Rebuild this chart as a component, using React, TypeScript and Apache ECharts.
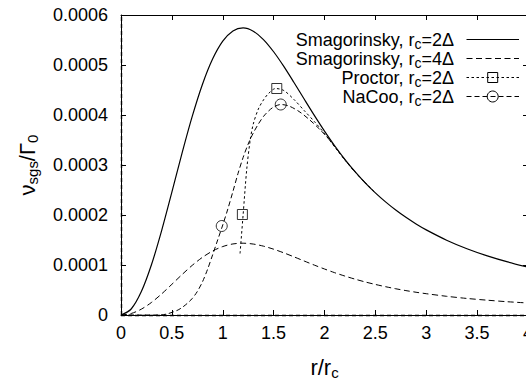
import React, { useEffect, useRef } from 'react';
import * as echarts from 'echarts';

// ---- data ----
const rGrid = [0, 0.1, 0.2, 0.3, 0.4, 0.5, 0.6, 0.7, 0.8, 0.9, 1.0, 1.1, 1.2, 1.3, 1.4, 1.5, 1.6, 1.7, 1.8, 1.9, 2.0, 2.1, 2.2, 2.3, 2.4, 2.5, 2.6, 2.7, 2.8, 2.9, 3.0, 3.2, 3.4, 3.6, 3.8, 4.0];
const smag2 = [0, 0.000012, 0.0000468, 0.0001009, 0.0001693, 0.0002457, 0.0003237, 0.0003971, 0.000461, 0.0005118, 0.0005477, 0.0005682, 0.0005742, 0.0005676, 0.0005509, 0.0005265, 0.0004972, 0.000465, 0.0004319, 0.0003992, 0.0003678, 0.0003385, 0.0003114, 0.0002867, 0.0002644, 0.0002443, 0.0002262, 0.0002099, 0.0001953, 0.0001821, 0.0001702, 0.0001496, 0.0001325, 0.0001182, 0.0001061, 0.0000958];
const smag4 = [0, 0.000003, 0.0000117, 0.0000252, 0.0000423, 0.0000614, 0.0000809, 0.0000993, 0.0001153, 0.000128, 0.0001369, 0.0001421, 0.0001436, 0.0001419, 0.0001377, 0.0001316, 0.0001243, 0.0001163, 0.000108, 0.0000998, 0.000092, 0.0000846, 0.0000779, 0.0000717, 0.0000661, 0.0000611, 0.0000566, 0.0000525, 0.0000488, 0.0000455, 0.0000426, 0.0000374, 0.0000331, 0.0000296, 0.0000265, 0.000024];

const proctorR = [1.17, 1.2, 1.236, 1.27, 1.3, 1.35, 1.4, 1.45, 1.52, 1.6, 1.7, 1.8, 1.9, 2.0, 2.1, 2.2, 2.3, 2.4, 2.5];
const proctorV = [0.000123, 0.0002, 0.000292, 0.00035, 0.000382, 0.000412, 0.00043, 0.000443, 0.000453, 0.000449, 0.000431, 0.000409, 0.000387, 0.000363, 0.000336, 0.00031, 0.000286, 0.0002644, 0.0002443];
const proctorMarkR = [1.193, 1.531];
const proctorMarkV = [0.000201, 0.000453];

const nacooR = [0, 0.2, 0.37, 0.45, 0.55, 0.6, 0.65, 0.7, 0.75, 0.8, 0.85, 0.9, 0.95, 1.0, 1.05, 1.1, 1.15, 1.2, 1.25, 1.3, 1.35, 1.4, 1.45, 1.5, 1.57, 1.65, 1.75, 1.85, 1.95, 2.05, 2.15, 2.25, 2.35, 2.45];
const nacooV = [0, 0, 0, 0.000002, 0.000009, 0.000015, 0.000023, 0.000033, 0.000047, 0.000066, 0.000091, 0.00012, 0.00015, 0.00018, 0.000212, 0.000247, 0.000283, 0.000315, 0.000342, 0.000364, 0.000382, 0.000397, 0.000408, 0.000416, 0.000421, 0.000418, 0.000407, 0.000391, 0.000372, 0.00035, 0.000324, 0.000298, 0.0002755, 0.000254];
const nacooMarkR = [0.99, 1.57];
const nacooMarkV = [0.000178, 0.000421];

const xTickLabels = ['0', '0.5', '1', '1.5', '2', '2.5', '3', '3.5', '4'];
const yTickLabels = ['0', '0.0001', '0.0002', '0.0003', '0.0004', '0.0005', '0.0006'];

const legendNames = ['Smagorinsky', 'Smagorinsky', 'Proctor', 'NaCoo'];
const legendRc = ['2Δ', '4Δ', '2Δ', '2Δ'];

const FONT = "'Liberation Sans', Arial, Helvetica, sans-serif";

const pairs = (xs: number[], ys: number[]) => xs.map((x, i) => [x, ys[i]]);

function buildOption() {
  const tick = { show: true, inside: true, length: 5, lineStyle: { color: '#000', width: 1 } };
  const line = { show: true, onZero: false, lineStyle: { color: '#000', width: 1 } };

  const legendRowY = [39.5, 58.5, 77.5, 96.5];
  const textRight = 454;
  const lx1 = 466.5;
  const lx2 = 519;
  const lxc = 492.7;
  const dashes: (number[] | null)[] = [null, [6, 3.5], [2.5, 2.5], [5, 3]];

  const graphic: any[] = [];
  legendNames.forEach((nm, i) => {
    const y = legendRowY[i];
    graphic.push({
      type: 'text',
      x: textRight,
      y,
      silent: true,
      style: {
        text: `{m|${nm}, r}{s|c}{m|=${legendRc[i]}}`,
        align: 'right',
        verticalAlign: 'middle',
        fill: '#000',
        rich: {
          m: { fontSize: 18, fontFamily: FONT, fill: '#000' },
          s: { fontSize: 14, fontFamily: FONT, fill: '#000', padding: [9, 0, 0, 0] },
        },
      },
    });
    graphic.push({
      type: 'line',
      silent: true,
      shape: { x1: lx1, y1: y, x2: lx2, y2: y },
      style: { stroke: '#000', lineWidth: i === 0 ? 1.2 : 1, lineDash: dashes[i] || undefined },
    });
    if (i === 2) {
      graphic.push({
        type: 'rect',
        silent: true,
        shape: { x: lxc - 5, y: y - 5, width: 10, height: 10 },
        style: { fill: 'none', stroke: '#000', lineWidth: 1 },
      });
    }
    if (i === 3) {
      graphic.push({
        type: 'circle',
        silent: true,
        shape: { cx: lxc, cy: y, r: 5.5 },
        style: { fill: 'none', stroke: '#000', lineWidth: 1 },
      });
    }
  });

  return {
    animation: false,
    backgroundColor: '#fff',
    grid: { left: 121, top: 15, width: 407, height: 302, containLabel: false },
    xAxis: [
      {
        type: 'value', min: 0, max: 4, interval: 0.5, position: 'bottom',
        axisLine: line, axisTick: tick, splitLine: { show: false },
        axisLabel: {
          color: '#000', fontSize: 18, fontFamily: FONT, margin: 9,
          formatter: (_v: number, idx: number) => xTickLabels[idx],
        },
        name: '{m|r/r}{s|c}', nameLocation: 'middle', nameGap: 40,
        nameTextStyle: {
          color: '#000', fontFamily: FONT, fontSize: 22,
          rich: {
            m: { fontSize: 22, fontFamily: FONT, color: '#000' },
            s: { fontSize: 15, fontFamily: FONT, color: '#000', padding: [10, 0, 0, 0] },
          },
        },
      },
      {
        type: 'value', min: 0, max: 4, interval: 0.5, position: 'top',
        axisLine: line, axisTick: tick, splitLine: { show: false }, axisLabel: { show: false },
      },
    ],
    yAxis: [
      {
        type: 'value', min: 0, max: 0.0006, interval: 0.0001, position: 'left',
        axisLine: line, axisTick: tick, splitLine: { show: false },
        axisLabel: {
          color: '#000', fontSize: 18, fontFamily: FONT, margin: 13,
          formatter: (_v: number, idx: number) => yTickLabels[idx],
        },
        name: '{m|ν}{s|sgs}{m|/Γ}{s|0}', nameLocation: 'middle', nameGap: 81,
        nameTextStyle: {
          color: '#000', fontFamily: FONT, fontSize: 22,
          rich: {
            m: { fontSize: 22, fontFamily: FONT, color: '#000' },
            s: { fontSize: 15, fontFamily: FONT, color: '#000', padding: [10, 0, 0, 0] },
          },
        },
      },
      {
        type: 'value', min: 0, max: 0.0006, interval: 0.0001, position: 'right',
        axisLine: line, axisTick: tick, splitLine: { show: false }, axisLabel: { show: false },
      },
    ],
    series: [
      {
        name: 'Smagorinsky, rc=2Δ', type: 'line', xAxisIndex: 0, yAxisIndex: 0,
        data: pairs(rGrid, smag2), showSymbol: false, smooth: 0.3,
        lineStyle: { color: '#000', width: 1.2, type: 'solid' }, itemStyle: { color: '#000' },
        markLine: {
          silent: true, symbol: ['none', 'none'], label: { show: false },
          lineStyle: { color: '#000', type: [4, 3], width: 1.4 },
          data: [{ xAxis: 0 }, { yAxis: 0 }],
        },
        z: 3,
      },
      {
        name: 'Smagorinsky, rc=4Δ', type: 'line', data: pairs(rGrid, smag4), showSymbol: false, smooth: 0.3,
        lineStyle: { color: '#000', width: 1, type: [6, 3.5] }, itemStyle: { color: '#000' }, z: 2,
      },
      {
        name: 'Proctor, rc=2Δ', type: 'line', data: pairs(proctorR, proctorV), showSymbol: false, smooth: 0.3,
        lineStyle: { color: '#000', width: 1, type: [2.5, 2.5] }, itemStyle: { color: '#000' }, z: 2,
      },
      {
        name: 'NaCoo, rc=2Δ', type: 'line', data: pairs(nacooR, nacooV), showSymbol: false, smooth: 0.3,
        lineStyle: { color: '#000', width: 1, type: [5, 3] }, itemStyle: { color: '#000' }, z: 2,
      },
      {
        name: 'Proctor markers', type: 'scatter', data: pairs(proctorMarkR, proctorMarkV),
        symbol: 'rect', symbolSize: 10,
        itemStyle: { color: 'rgba(0,0,0,0)', borderColor: '#000', borderWidth: 1 }, z: 4,
      },
      {
        name: 'NaCoo markers', type: 'scatter', data: pairs(nacooMarkR, nacooMarkV),
        symbol: 'circle', symbolSize: 11,
        itemStyle: { color: 'rgba(0,0,0,0)', borderColor: '#000', borderWidth: 1 }, z: 4,
      },
    ],
    graphic,
  };
}

export default function App() {
  const ref = useRef<HTMLDivElement>(null);
  useEffect(() => {
    if (!ref.current) return;
    const chart = echarts.init(ref.current, null, { renderer: 'svg' });
    chart.setOption(buildOption() as any);
    return () => chart.dispose();
  }, []);
  return (
    <div style={{ position: 'fixed', left: 0, top: 0, width: 526, height: 385, overflow: 'hidden', background: '#fff' }}>
      <div ref={ref} style={{ width: 540, height: 385 }} />
    </div>
  );
}
